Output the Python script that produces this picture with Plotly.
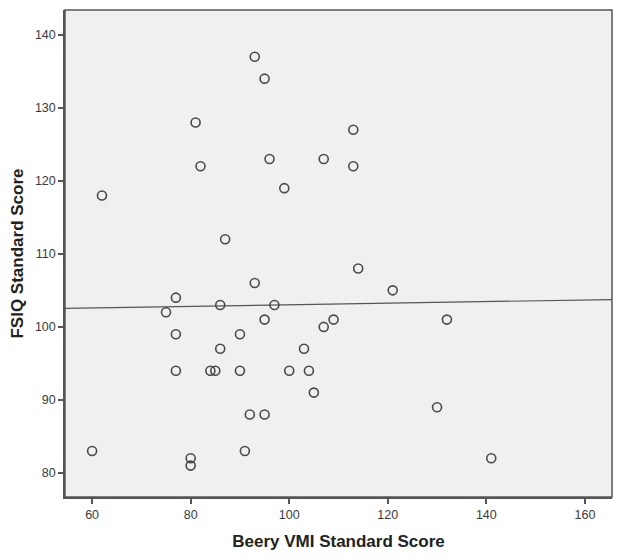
import numpy as np
import plotly.graph_objects as go

# Beery VMI vs FSIQ standard scores
vmi = [62, 60, 75, 77, 77, 77, 80, 80, 81, 82, 84, 85, 86, 86, 87, 90, 90, 91, 92, 93, 93,
       95, 95, 95, 96, 97, 99, 100, 103, 104, 105, 107, 107, 109, 113, 113, 114, 121, 130, 132, 141]
fsiq = [118, 83, 102, 104, 99, 94, 82, 81, 128, 122, 94, 94, 103, 97, 112, 99, 94, 83, 88, 137, 106,
        134, 101, 88, 123, 103, 119, 94, 97, 94, 91, 123, 100, 101, 127, 122, 108, 105, 89, 101, 82]

x_ticks = [60, 80, 100, 120, 140, 160]
y_ticks = [80, 90, 100, 110, 120, 130, 140]
x_range = [54.5, 165.5]
y_range = [76.7, 143.4]

# linear fit line across the whole axis
slope, intercept = np.polyfit(vmi, fsiq, 1)
fit_x = np.array(x_range)
fit_y = intercept + slope * fit_x

fig = go.Figure()
fig.add_trace(go.Scatter(x=fit_x, y=fit_y, mode='lines',
                         line=dict(color='#555555', width=1.2), hoverinfo='skip'))
fig.add_trace(go.Scatter(x=vmi, y=fsiq, mode='markers',
                         marker=dict(symbol='circle-open', size=9, color='#4a4a4a',
                                     line=dict(width=1.6, color='#4a4a4a'))))

axis_common = dict(showgrid=False, zeroline=False, showline=True, linecolor='#555555',
                   linewidth=1.5, ticks='outside', ticklen=5, tickcolor='#555555', tickwidth=1.5,
                   tickfont=dict(family='Liberation Sans', size=12.5, color='#3a3a3a'),
                   mirror=False, automargin=False)

# page body has an 8px margin, so the figure is sized/offset to land where the original sits
fig.update_layout(
    width=616, height=552,
    margin=dict(l=57, r=12, t=2, b=63),
    paper_bgcolor='white', plot_bgcolor='#f0f0f0',
    showlegend=False,
    xaxis=dict(range=x_range, tickvals=x_ticks, **axis_common,
               title=dict(text='<b>Beery VMI Standard Score</b>', standoff=14,
                          font=dict(family='Liberation Sans', size=17, color='#222222'))),
    yaxis=dict(range=y_range, tickvals=y_ticks, **axis_common,
               title=dict(text='<b>FSIQ Standard Score</b>', standoff=10,
                          font=dict(family='Liberation Sans', size=17, color='#222222'))),
    shapes=[dict(type='rect', xref='paper', yref='paper', x0=0, y0=0, x1=1, y1=1,
                 line=dict(color='#555555', width=1.5))],
)

fig.write_html("out.html")
